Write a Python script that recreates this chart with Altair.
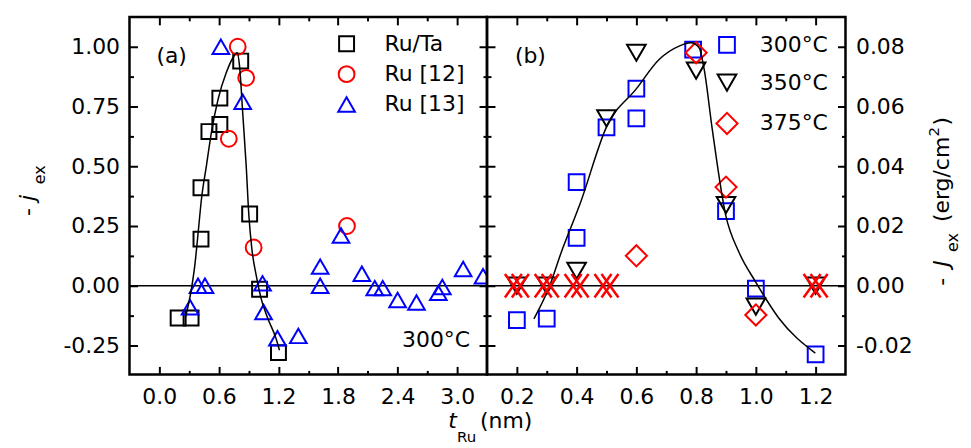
import altair as alt
import pandas as pd

FONT = "DejaVu Sans"

# ---------------- panel (a) data ----------------
a_series = ["Ru/Ta", "Ru [12]", "Ru [13]"]
ruta_x = [0.19, 0.32, 0.42, 0.42, 0.50, 0.61, 0.61, 0.82, 0.91, 1.01, 1.20]
ruta_y = [-0.135, -0.135, 0.195, 0.41, 0.645, 0.675, 0.785, 0.94, 0.30, -0.015, -0.28]
ru12_x = [0.70, 0.79, 0.875, 0.95, 1.89]
ru12_y = [0.615, 1.0, 0.87, 0.16, 0.25]
ru13_x = [0.31, 0.39, 0.46, 0.62, 0.84, 1.04, 1.05, 1.19, 1.40, 1.62, 1.62, 1.83,
          2.04, 2.17, 2.25, 2.40, 2.59, 2.81, 2.85, 3.06, 3.26]
ru13_y = [-0.09, 0.0, 0.0, 1.0, 0.77, 0.01, -0.11, -0.22, -0.21, 0.08, 0.0, 0.21,
          0.05, -0.01, -0.01, -0.06, -0.07, -0.03, -0.005, 0.07, 0.04]
fit_a_x = [0.265, 0.325, 0.358, 0.392, 0.425, 0.475, 0.525, 0.592, 0.675, 0.742, 0.785,
           0.808, 0.842, 0.875, 0.902, 0.932, 0.975, 1.025, 1.092, 1.175, 1.21]
fit_a_y = [-0.13, -0.01, 0.086, 0.225, 0.364, 0.503, 0.642, 0.78, 0.892, 0.954, 0.975,
           0.92, 0.711, 0.503, 0.295, 0.155, 0.045, -0.053, -0.136, -0.22, -0.27]

# ---------------- panel (b) data ----------------
b_series = ["300°C", "350°C", "375°C"]
b300_x = [0.2, 0.3, 0.4, 0.4, 0.5, 0.6, 0.6, 0.79, 0.9, 1.0, 1.2]
b300_y = [-0.0115, -0.011, 0.016, 0.0347, 0.053, 0.056, 0.066, 0.079, 0.025, -0.001, -0.023]
b350_x = [0.2, 0.3, 0.4, 0.5, 0.6, 0.8, 0.9, 1.0, 1.2]
b350_y = [0.0, 0.0, 0.005, 0.056, 0.078, 0.072, 0.027, -0.007, 0.0]
b375_x = [0.6, 0.8, 0.9, 1.0]
b375_y = [0.010, 0.078, 0.033, -0.0098]
cross_x = [0.2, 0.3, 0.4, 0.5, 1.2]
cross_y = [0.0, 0.0, 0.0, 0.0, 0.0]
fit_b_x = [0.257, 0.31, 0.349, 0.388, 0.41, 0.502, 0.599, 0.677, 0.743, 0.782, 0.81,
           0.827, 0.854, 0.899, 0.943, 0.999, 1.077, 1.199]
fit_b_y = [-0.0111, 0.0, 0.0113, 0.0213, 0.027, 0.0536, 0.0658, 0.0758, 0.0802, 0.0813,
           0.0797, 0.0724, 0.0524, 0.0236, 0.0113, 0.0013, -0.0109, -0.0226]

# ---------------- axes ticks ----------------
a_xdom = [-0.3, 3.3]
a_ydom = [-0.371, 1.125]
a_xmaj = [0.0, 0.6, 1.2, 1.8, 2.4, 3.0]
a_xmin = [0.3, 0.9, 1.5, 2.1, 2.7]
a_ymaj = [-0.25, 0.0, 0.25, 0.5, 0.75, 1.0]
a_ymin = [-0.125, 0.125, 0.375, 0.625, 0.875]
b_xdom = [0.1, 1.3]
b_ydom = [-0.0297, 0.09]
b_xmaj = [0.2, 0.4, 0.6, 0.8, 1.0, 1.2]
b_xmin = [0.3, 0.5, 0.7, 0.9, 1.1]
b_ymaj = [-0.02, 0.0, 0.02, 0.04, 0.06, 0.08]
b_ymin = [-0.01, 0.01, 0.03, 0.05, 0.07]

W_A, W_B, H = 359, 360, 359


def fmt_expr(digits):
    return "(datum.value < 0 ? '-' : '') + format(abs(datum.value), '.%df')" % digits


def ax(orient, values, major, labels=False, digits=2, pad=16):
    kw = dict(orient=orient, values=values, title=None, grid=False, domain=False,
              ticks=True, tickColor="black", tickWidth=2,
              tickSize={"expr": "-8" if major else "-4"}, labels=labels)
    if labels:
        kw.update(labelFont=FONT, labelFontSize=22, labelColor="black",
                  labelPadding=pad, labelExpr=fmt_expr(digits),
                  labelFlush=False, labelOverlap=False)
    return alt.Axis(**kw)


def carrier(df, xs, ys, xaxis, yaxis):
    return alt.Chart(df).mark_point(opacity=0).encode(
        x=alt.X("x:Q", scale=xs, axis=xaxis),
        y=alt.Y("y:Q", scale=ys, axis=yaxis),
    )


def txt(text, x, y, size=22, angle=None, italic=False, align="left"):
    kw = dict(text=text, font=FONT, fontSize=size, color="black", align=align,
              baseline="alphabetic")
    if angle is not None:
        kw["angle"] = angle
    if italic:
        kw["fontStyle"] = "italic"
    return alt.Chart(pd.DataFrame({"t": [0]})).mark_text(**kw).encode(
        x=alt.value(x), y=alt.value(y))


# ---------------- panel (a) ----------------
xs_a = alt.Scale(domain=a_xdom, nice=False, zero=False)
ys_a = alt.Scale(domain=a_ydom, nice=False, zero=False)
fit_a = pd.DataFrame({"x": fit_a_x, "y": fit_a_y})
pts_a = pd.DataFrame({
    "x": ruta_x + ru12_x + ru13_x,
    "y": ruta_y + ru12_y + ru13_y,
    "series": [a_series[0]] * len(ruta_x) + [a_series[1]] * len(ru12_x) + [a_series[2]] * len(ru13_x),
})
leg_a = alt.Legend(title=None, orient="none", legendX=207, legendY=16, labelFont=FONT,
                   labelFontSize=22, labelColor="black", labelOffset=27, rowPadding=6.5,
                   symbolStrokeWidth=2, padding=0, labelLimit=300)

points_a = alt.Chart(pts_a).mark_point(filled=False, strokeWidth=2, opacity=1, clip=True).encode(
    x=alt.X("x:Q", scale=xs_a, axis=None),
    y=alt.Y("y:Q", scale=ys_a, axis=None),
    color=alt.Color("series:N", scale=alt.Scale(domain=a_series, range=["black", "red", "blue"]), legend=leg_a),
    shape=alt.Shape("series:N", scale=alt.Scale(domain=a_series, range=["square", "circle", "triangle-up"]), legend=leg_a),
    size=alt.Size("series:N", scale=alt.Scale(domain=a_series, range=[225, 280, 420]), legend=leg_a),
)
line_a = alt.Chart(fit_a).mark_line(color="black", strokeWidth=1.5, interpolate="monotone").encode(
    x=alt.X("x:Q", scale=xs_a, axis=None), y=alt.Y("y:Q", scale=ys_a, axis=None))
zero_a = alt.Chart(pd.DataFrame({"y": [0.0]})).mark_rule(color="black", strokeWidth=1.5).encode(
    y=alt.Y("y:Q", scale=ys_a, axis=None))

panel_a = alt.layer(
    carrier(fit_a, xs_a, ys_a, ax("bottom", a_xmaj, True, True, 1, 20), ax("left", a_ymaj, True, True, 2, 18)),
    carrier(fit_a, xs_a, ys_a, ax("bottom", a_xmin, False), ax("left", a_ymin, False)),
    carrier(fit_a, xs_a, ys_a, ax("top", a_xmaj, True), ax("right", a_ymaj, True)),
    carrier(fit_a, xs_a, ys_a, ax("top", a_xmin, False), ax("right", a_ymin, False)),
    zero_a,
    points_a,
    line_a,
    txt("(a)", 27, 46),
    txt("300°C", 342, 331, align="right"),
    # y title  - j_ex
    txt("-", -95, 200, angle=270),
    txt("j", -95, 185, angle=270, italic=True),
    txt("ex", -85, 168, size=16, angle=270),
    # x title  t_Ru (nm)
    txt("t", 320, 413, italic=True),
    txt("Ru", 329, 427, size=15),
    txt("(nm)", 352, 413),
).resolve_axis(x="independent", y="independent").properties(width=W_A, height=H)

# ---------------- panel (b) ----------------
xs_b = alt.Scale(domain=b_xdom, nice=False, zero=False)
ys_b = alt.Scale(domain=b_ydom, nice=False, zero=False)
fit_b = pd.DataFrame({"x": fit_b_x, "y": fit_b_y})
pts_b = pd.DataFrame({
    "x": b300_x + b350_x + b375_x,
    "y": b300_y + b350_y + b375_y,
    "series": [b_series[0]] * len(b300_x) + [b_series[1]] * len(b350_x) + [b_series[2]] * len(b375_x),
})
cross_df = pd.DataFrame({"x": cross_x, "y": cross_y})
leg_b = alt.Legend(title=None, orient="none", legendX=229, legendY=17, labelFont=FONT,
                   labelFontSize=22, labelColor="black", labelOffset=21, rowPadding=13,
                   symbolStrokeWidth=2, padding=0, labelLimit=300)

points_b = alt.Chart(pts_b).mark_point(filled=False, strokeWidth=2, opacity=1, clip=True).encode(
    x=alt.X("x:Q", scale=xs_b, axis=None),
    y=alt.Y("y:Q", scale=ys_b, axis=None),
    color=alt.Color("series:N", scale=alt.Scale(domain=b_series, range=["blue", "black", "red"]), legend=leg_b),
    shape=alt.Shape("series:N", scale=alt.Scale(domain=b_series, range=["square", "triangle-down", "diamond"]), legend=leg_b),
    size=alt.Size("series:N", scale=alt.Scale(domain=b_series, range=[250, 450, 484]), legend=leg_b),
)
X_PATH = "M-0.72,-1L0.72,1M-0.72,1L0.72,-1"
cross_l = alt.Chart(cross_df).mark_point(shape=X_PATH, filled=False, color="red", strokeWidth=2.5,
                                         size=560, opacity=1, xOffset=-3.5).encode(
    x=alt.X("x:Q", scale=xs_b, axis=None), y=alt.Y("y:Q", scale=ys_b, axis=None))
cross_r = alt.Chart(cross_df).mark_point(shape=X_PATH, filled=False, color="red", strokeWidth=2.5,
                                         size=560, opacity=1, xOffset=3.5).encode(
    x=alt.X("x:Q", scale=xs_b, axis=None), y=alt.Y("y:Q", scale=ys_b, axis=None))
line_b = alt.Chart(fit_b).mark_line(color="black", strokeWidth=1.5, interpolate="monotone").encode(
    x=alt.X("x:Q", scale=xs_b, axis=None), y=alt.Y("y:Q", scale=ys_b, axis=None))
zero_b = alt.Chart(pd.DataFrame({"y": [0.0]})).mark_rule(color="black", strokeWidth=1.5).encode(
    y=alt.Y("y:Q", scale=ys_b, axis=None))

panel_b = alt.layer(
    carrier(fit_b, xs_b, ys_b, ax("bottom", b_xmaj, True, True, 1, 20), ax("right", b_ymaj, True, True, 2, 18)),
    carrier(fit_b, xs_b, ys_b, ax("bottom", b_xmin, False), ax("right", b_ymin, False)),
    carrier(fit_b, xs_b, ys_b, ax("top", b_xmaj, True), ax("left", b_ymaj, True)),
    carrier(fit_b, xs_b, ys_b, ax("top", b_xmin, False), ax("left", b_ymin, False)),
    zero_b,
    points_b,
    line_b,
    cross_l,
    cross_r,
    txt("(b)", 28, 46),
    # right y title  -J_ex (erg/cm2)
    txt("-", 464, 270, angle=270),
    txt("J", 464, 251, angle=270, italic=True),
    txt("ex", 473, 236, size=16, angle=270),
    txt("(erg/cm", 464, 206, angle=270),
    txt("2", 454, 120, size=15, angle=270),
    txt(")", 464, 109, angle=270),
).resolve_axis(x="independent", y="independent").properties(width=W_B, height=H)

chart = alt.hconcat(panel_a, panel_b, spacing=0, bounds="flush").resolve_scale(
    x="independent", y="independent", color="independent", shape="independent", size="independent"
).properties(
    padding={"left": 7, "top": 5, "right": 0, "bottom": 0}, background="white"
).configure(font=FONT).configure_view(stroke="black", strokeWidth=2.5)

chart.save("out.html", embed_options={"renderer": "svg", "actions": False})
